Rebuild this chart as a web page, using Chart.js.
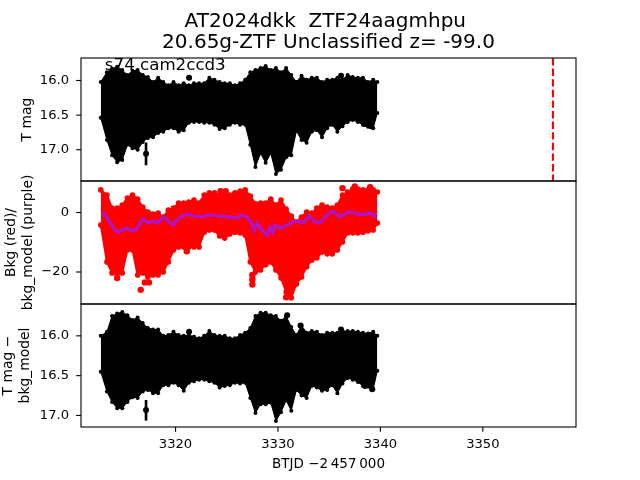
<!DOCTYPE html>
<html>
<head>
<meta charset="utf-8">
<style>
  html, body { margin: 0; padding: 0; background: #fff; }
  #wrap { position: relative; width: 640px; height: 480px; }
</style>
<script src="https://cdn.jsdelivr.net/npm/chart.js@4"></script>
</head>
<body>
<div id="wrap"><canvas id="lc" width="640" height="480"></canvas></div>
<script>
// BTJD of each column of the light curve
const btjd = [3312.7,3313.3,3313.8,3314.3,3314.8,3315.3,3315.8,3316.3,3316.8,3317.3,3317.8,3318.3,3318.8,3319.3,3319.8,3320.3,3320.8,3321.3,3321.8,3322.3,3322.8,3323.3,3323.8,3324.3,3324.8,3325.3,3325.8,3326.3,3326.8,3327.3,3327.8,3328.3,3328.8,3329.3,3329.8,3330.3,3330.8,3331.3,3331.8,3332.3,3332.8,3333.3,3333.8,3334.3,3334.8,3335.3,3335.8,3336.3,3336.8,3337.3,3337.8,3338.3,3338.8,3339.3,3339.7];

// top panel: T mag envelope
const magTop = [16.02,15.88,15.83,15.80,15.85,15.92,15.86,15.85,15.92,15.95,16.02,15.96,16.02,16.07,16.02,16.07,16.04,16.07,16.04,16.04,16.04,15.96,15.99,16.02,16.04,16.04,16.07,16.04,15.99,15.88,15.85,15.82,15.79,15.85,15.82,15.88,15.82,15.92,16.02,15.93,15.99,15.96,15.96,16.02,15.99,15.99,15.96,15.99,15.92,15.95,15.96,15.96,16.02,15.99,16.02];
const magBottom = [16.54,16.86,17.08,17.18,17.15,16.93,16.98,17.00,16.89,16.83,16.82,16.76,16.74,16.69,16.69,16.74,16.72,16.61,16.60,16.60,16.61,16.61,16.64,16.70,16.69,16.64,16.61,16.64,16.64,16.93,17.25,17.05,17.19,17.05,17.35,17.29,17.11,17.08,16.73,16.86,16.90,16.74,16.72,16.82,16.69,16.64,16.74,16.66,16.60,16.57,16.60,16.64,16.67,16.69,16.47];
const magOutX = [3317.12,3321.32,3336.16,3338.5,3339.1];
const magOutY = [17.06,15.96,15.93,16.63,16.66];

// middle panel: background envelope and model
const bkgTop = [7.6,5.9,1.5,1.5,2.5,4.9,5.9,4.5,1.8,0.2,-0.5,-0.2,-1.5,0.8,1.5,3.2,3.2,3.5,4.2,3.2,5.9,6.6,6.6,5.9,6.2,5.9,6.6,7.2,7.6,5.5,2.9,3.2,3.2,4.5,2.5,4.2,1.2,-1.2,-3.2,-1.5,0.2,-0.2,1.5,2.5,1.8,1.5,2.5,5.9,6.9,7.9,7.9,7.6,7.6,7.6,6.9];
const bkgBottom = [-4.2,-16.6,-20.3,-20.7,-20.3,-12.6,-12.6,-21,-20.3,-21.7,-21,-21,-20,-16.6,-12.6,-11.6,-11.6,-11.6,-11.6,-11.6,-6.6,-5.9,-5.9,-7.9,-8.6,-7.2,-6.6,-6.9,-7.6,-16.6,-20,-19.3,-17.6,-16.6,-19.3,-22,-26.7,-28.7,-24,-21.7,-18.3,-16,-15.3,-13.3,-13.9,-13.9,-12.6,-9.9,-6.9,-6.9,-6.9,-6.6,-6.2,-5.9,-3.5];
const bkgOutX = [3314.3,3316.6,3317.0,3317.4,3321.1,3324.4,3324.9,3327.5,3327.5,3327.5,3330.8,3336.3,3337.5,3339.0];
const bkgOutY = [-22.0,-26.0,-23.5,-23.5,-13.0,7.2,7.2,-21.0,-22.5,-24.2,-28.5,8.2,8.8,8.5];
const modelX = [3312.92,3313.31,3313.8,3314.09,3314.38,3314.87,3315.26,3315.75,3316.24,3316.53,3316.83,3317.31,3317.8,3318.29,3318.78,3319.17,3319.76,3320.24,3321.03,3321.9,3322.69,3323.17,3324.35,3325.32,3326.01,3326.4,3326.98,3327.37,3327.67,3327.96,3328.45,3328.94,3329.23,3329.52,3329.72,3330.21,3330.89,3331.38,3331.96,3332.45,3333.04,3333.62,3334.11,3334.79,3335.38,3336.06,3336.85,3337.53,3338.21,3338.99,3339.68];
const modelY = [0.2,-1.8,-4.2,-5.9,-6.6,-5.9,-5.2,-6.2,-5.5,-3.5,-2.2,-3.5,-2.9,-3.5,-1.5,-2.5,-4.2,-2.2,-0.5,-1.2,-1.5,-0.8,-1.2,-1.5,-1.8,-0.8,-1.5,-3.2,-5.9,-3.5,-5.9,-7.6,-4.9,-6.6,-4.2,-5.2,-4.2,-3.2,-2.9,-3.5,-1.2,-3.2,-3.5,-0.8,0.5,-1.5,0.2,-0.2,-0.8,-0.2,-1.5];

// bottom panel: T mag minus bkg model envelope
const corrTop = [16.00,15.95,15.75,15.72,15.70,15.74,15.80,15.77,15.84,15.90,15.92,15.92,16.00,15.99,15.95,15.99,16.00,15.99,16.01,16.03,16.00,15.94,15.99,16.00,16.00,16.03,16.03,15.99,15.96,15.90,15.75,15.71,15.71,15.74,15.75,15.81,15.75,15.89,15.99,15.87,15.96,15.94,15.95,15.99,15.96,15.96,15.96,15.94,15.94,15.94,15.95,15.96,15.97,15.95,16.00];
const corrBottom = [16.45,16.70,16.83,16.91,16.91,16.83,16.77,16.78,16.70,16.68,16.72,16.72,16.62,16.62,16.59,16.62,16.69,16.59,16.57,16.55,16.55,16.57,16.59,16.65,16.63,16.62,16.59,16.60,16.59,16.78,16.97,16.86,16.86,16.84,17.07,16.96,16.81,16.94,16.68,16.75,16.78,16.63,16.65,16.69,16.68,16.62,16.72,16.60,16.53,16.55,16.58,16.63,16.64,16.67,16.44];
const corrOutX = [3317.12,3321.32,3336.16,3330.9,3332.2,3338.5,3339.2];
const corrOutY = [16.93,15.95,15.92,15.74,15.87,16.63,16.67];

// single points with long error bars: [x, low, high]
const magBarX = [3317.12];
const magBarLow = [16.90];
const magBarHigh = [17.22];
const corrBarX = [3317.12];
const corrBarLow = [16.81];
const corrBarHigh = [17.06];

const peakX = [3356.85, 3356.85];
const peakY = [15.675, 17.452];

const xTicks = [3320, 3330, 3340, 3350];
const magTicks = [16.0, 16.5, 17.0];
const bkgTicks = [0, -20];
const corrTicks = [16.0, 16.5, 17.0];

const titleLines = ['AT2024dkk  ZTF24aagmhpu ', '20.65g-ZTF Unclassified z= -99.0'];
const sectorLabel = 's74 cam2ccd3';

const font = 'DejaVu Sans';
Chart.defaults.font.family = font;
Chart.defaults.color = '#000';
Chart.defaults.animation = false;

// upper edge filled down to the lower edge, the lower edge follows as its own line
const envelope = (highs, lows, yAxisID, color, lw, r) => [highs, lows].map((ys, k) => ({
    type: 'line',
    yAxisID,
    data: btjd.map((x, i) => ({ x, y: ys[i] })),
    borderColor: color,
    backgroundColor: color,
    borderWidth: lw,
    borderJoinStyle: 'round',
    pointRadius: r,
    pointBorderWidth: 0,
    pointBackgroundColor: color,
    fill: k === 0 ? '+1' : false,
    tension: 0,
    order: 3,
}));

const dots = (xs, ys, yAxisID, color, r) => ({
    type: 'scatter',
    yAxisID,
    data: xs.map((x, i) => ({ x, y: ys[i] })),
    backgroundColor: color,
    borderWidth: 0,
    pointRadius: r,
    order: 2,
});

const whisker = (xs, lows, highs, yAxisID) => ({
    type: 'bar',
    yAxisID,
    data: xs.map((x, i) => ({ x, y: [lows[i], highs[i]] })),
    backgroundColor: '#000',
    barThickness: 2,
    grouped: false,
    order: 2,
});

const yAxis = (min, max, ticks, fmt, title, pad, weight) => ({
    type: 'linear',
    position: 'left',
    stack: 'panels',
    stackWeight: 1,
    weight,
    min,
    max,
    grid: { display: false },
    border: { display: false },
    ticks: { font: { size: 13.1 }, padding: 4, callback: fmt },
    title: { display: true, text: title, font: { size: 13.9 }, padding: pad },
    afterBuildTicks: s => { s.ticks = ticks.map(value => ({ value })); },
    afterFit: s => { s.width = 81; },
});

// tick marks, panel frames and the sector label
const frames = {
    id: 'frames',
    afterDatasetsDraw(chart) {
        const { ctx, scales } = chart;
        const x = scales.x;
        ctx.save();
        ctx.strokeStyle = '#000';
        ctx.lineWidth = 1.1;
        ['y1', 'y2', 'y3'].forEach(id => {
            const y = scales[id];
            ctx.strokeRect(x.left, y.top, x.right - x.left, y.bottom - y.top);
            y.ticks.forEach(t => {
                const py = y.getPixelForValue(t.value);
                ctx.beginPath();
                ctx.moveTo(x.left - 4.8, py);
                ctx.lineTo(x.left, py);
                ctx.stroke();
            });
        });
        xTicks.forEach(v => {
            const px = x.getPixelForValue(v);
            ctx.beginPath();
            ctx.moveTo(px, x.top);
            ctx.lineTo(px, x.top + 4.8);
            ctx.stroke();
        });
        ctx.fillStyle = '#000';
        ctx.font = '16.67px "' + font + '"';
        ctx.fillText(sectorLabel, x.getPixelForValue(3313.1), scales.y1.getPixelForValue(15.85));
        ctx.restore();
    },
};

new Chart(document.getElementById('lc'), {
    type: 'bar',
    data: {
        datasets: [
            ...envelope(magTop, magBottom, 'y1', '#000', 1, 2),
            whisker(magBarX, magBarLow, magBarHigh, 'y1'),
            dots(magOutX, magOutY, 'y1', '#000', 3),
            {
                type: 'line',
                yAxisID: 'y1',
                data: peakX.map((x, i) => ({ x, y: peakY[i] })),
                borderColor: '#f00',
                borderWidth: 2.1,
                borderDash: [7.4, 3.2],
                pointRadius: 0,
                order: 1,
            },
            ...envelope(bkgTop, bkgBottom, 'y2', '#f00', 2, 2.8),
            dots(bkgOutX, bkgOutY, 'y2', '#f00', 3.2),
            {
                type: 'line',
                yAxisID: 'y2',
                data: modelX.map((x, i) => ({ x, y: modelY[i] })),
                borderColor: '#b014c4',
                borderWidth: 3.4,
                pointRadius: 0,
                tension: 0,
                order: 1,
            },
            ...envelope(corrTop, corrBottom, 'y3', '#000', 1, 2),
            whisker(corrBarX, corrBarLow, corrBarHigh, 'y3'),
            dots(corrOutX, corrOutY, 'y3', '#000', 3),
        ],
    },
    options: {
        responsive: false,
        layout: { padding: { left: 0, right: 64, top: 0, bottom: 0 } },
        plugins: {
            legend: { display: false },
            tooltip: { enabled: false },
            title: {
                display: true,
                text: titleLines,
                fullSize: false,
                font: { size: 20, weight: 'normal', lineHeight: 1.05 },
                color: '#000',
                padding: { top: 11, bottom: 5 },
            },
        },
        scales: {
            x: {
                type: 'linear',
                min: 3310.77,
                max: 3359.1,
                offset: false,
                grid: { display: false },
                border: { display: false },
                ticks: { font: { size: 13.1 }, padding: 2, callback: v => String(v) },
                title: { display: true, text: 'BTJD \u22122\u2009457\u2009000', font: { size: 13.5 }, padding: { top: 0, bottom: 7 } },
                afterBuildTicks: s => { s.ticks = xTicks.map(value => ({ value })); },
                afterFit: s => { s.height = 53; },
            },
            y3: Object.assign(yAxis(15.6, 17.145, corrTicks, v => v.toFixed(1), ['T mag \u2212', 'bkg_model'], { top: 0, bottom: 0 }, 1), { reverse: true }),
            y2: yAxis(-30.76, 10.6, bkgTicks, v => String(v).replace('-', '\u2212'), ['Bkg (red)/', 'bkg_model (purple)'], { top: 3, bottom: 0 }, 2),
            y1: Object.assign(yAxis(15.675, 17.452, magTicks, v => v.toFixed(1), 'T mag', { top: 19, bottom: 0 }, 3), { reverse: true }),
        },
    },
    plugins: [frames],
});
</script>
</body>
</html>
